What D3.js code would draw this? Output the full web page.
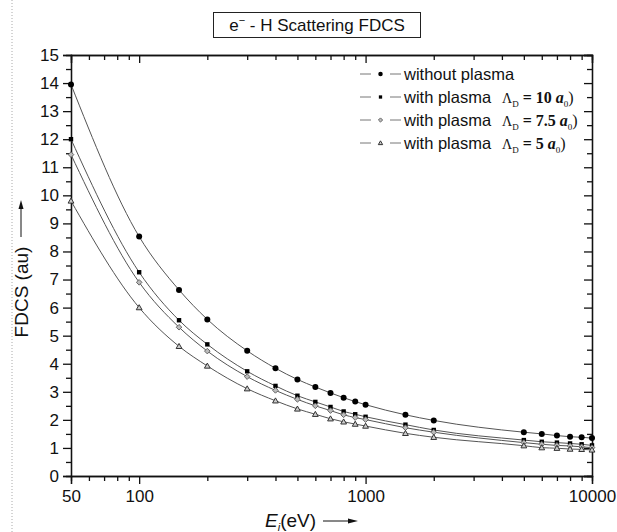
<!DOCTYPE html>
<html>
<head>
<meta charset="utf-8">
<script src="https://cdn.jsdelivr.net/npm/d3@7"></script>
<style>
  body { margin: 0; background: #fff; }
  svg { display: block; font-family: "Liberation Sans", Arial, sans-serif; }
</style>
</head>
<body>
<svg></svg>
<script>
var w = 617, h = 532

// energies (eV)
var energies = [50, 100, 150, 200, 300, 400, 500, 600, 700, 800, 900, 1000, 1500, 2000, 5000, 6000, 7000, 8000, 9000, 10000]

// FDCS values
var noPlasma = [13.95, 8.53, 6.63, 5.58, 4.46, 3.84, 3.44, 3.17, 2.96, 2.79, 2.65, 2.54, 2.18, 1.98, 1.56, 1.50, 1.44, 1.40, 1.38, 1.35]
var lambda10 = [12.0, 7.26, 5.55, 4.69, 3.73, 3.21, 2.86, 2.64, 2.46, 2.30, 2.20, 2.11, 1.83, 1.64, 1.28, 1.22, 1.19, 1.16, 1.13, 1.09]
var lambda75 = [11.45, 6.90, 5.30, 4.45, 3.54, 3.05, 2.73, 2.50, 2.33, 2.18, 2.08, 2.01, 1.72, 1.56, 1.19, 1.13, 1.09, 1.07, 1.04, 1.01]
var lambda5  = [9.8, 6.0, 4.62, 3.92, 3.11, 2.68, 2.39, 2.20, 2.04, 1.93, 1.85, 1.78, 1.52, 1.38, 1.08, 1.01, 0.99, 0.96, 0.95, 0.93]

var seriesNames = ["without plasma", "with plasma", "with plasma", "with plasma"]
var seriesLambda = [null, "10", "7.5", "5"]
var seriesSymbols = ["circle", "square", "diamond", "triangle"]

var xTickLabels = [50, 100, 1000, 10000]
var yTickLabels = d3.range(0, 16)

var svg = d3.select("svg")
    .attr("width", w)
    .attr("height", h)

var pLeft = 71, pRight = 592, pTop = 55, pBottom = 476

var x = d3.scaleLog().domain([50, 10000]).range([pLeft, pRight])
var y = d3.scaleLinear().domain([0, 15]).range([pBottom, pTop])

// dotted page edge on the left
svg.append("line")
    .attr("x1", 12).attr("x2", 12)
    .attr("y1", 0).attr("y2", h)
    .attr("stroke", "#aaa")
    .attr("stroke-dasharray", "1,2")

// title box
svg.append("rect")
    .attr("x", 213.5).attr("y", 12.5)
    .attr("width", 207).attr("height", 25)
    .attr("fill", "#fff")
    .attr("stroke", "#222")
var title = svg.append("text")
    .attr("x", 317).attr("y", 31)
    .attr("text-anchor", "middle")
    .attr("font-size", 17)
    .attr("fill", "#111")
title.append("tspan").text("e")
title.append("tspan").attr("dy", -7).attr("font-size", 11).text("\u2212")
title.append("tspan").attr("dy", 7).text(" - H Scattering FDCS")

// axes
var xMinor = [60, 70, 80, 90, 200, 300, 400, 500, 600, 700, 800, 900,
              2000, 3000, 4000, 5000, 6000, 7000, 8000, 9000]
var yMinor = d3.range(0.5, 15, 1)

function fmt(d) { return String(d) }

// bottom
svg.append("g")
    .attr("transform", "translate(0," + pBottom + ")")
    .call(d3.axisBottom(x).tickValues(xTickLabels).tickSize(8).tickPadding(6).tickFormat(fmt))
svg.append("g")
    .attr("transform", "translate(0," + pBottom + ")")
    .call(d3.axisBottom(x).tickValues(xMinor).tickSize(5).tickFormat(""))
// top (mirror, inward)
svg.append("g")
    .attr("transform", "translate(0," + pTop + ")")
    .call(d3.axisBottom(x).tickValues(xTickLabels).tickSize(8).tickFormat(""))
svg.append("g")
    .attr("transform", "translate(0," + pTop + ")")
    .call(d3.axisBottom(x).tickValues(xMinor).tickSize(5).tickFormat(""))
// left
svg.append("g")
    .attr("transform", "translate(" + pLeft + ",0)")
    .call(d3.axisLeft(y).tickValues(yTickLabels).tickSize(8).tickPadding(4).tickFormat(fmt))
svg.append("g")
    .attr("transform", "translate(" + pLeft + ",0)")
    .call(d3.axisLeft(y).tickValues(yMinor).tickSize(5).tickFormat(""))
// right (mirror, inward)
svg.append("g")
    .attr("transform", "translate(" + pRight + ",0)")
    .call(d3.axisLeft(y).tickValues(yTickLabels).tickSize(8).tickFormat(""))
svg.append("g")
    .attr("transform", "translate(" + pRight + ",0)")
    .call(d3.axisLeft(y).tickValues(yMinor).tickSize(5).tickFormat(""))

svg.selectAll(".domain").attr("stroke", "#111").attr("stroke-width", 1.3)
svg.selectAll(".tick line").attr("stroke", "#111").attr("stroke-width", 1.3)
svg.selectAll(".tick text")
    .attr("font-size", 17)
    .attr("font-family", "Liberation Sans, Arial, sans-serif")
    .attr("fill", "#111")

// axis titles
var yl = svg.append("g").attr("transform", "translate(28,292) rotate(-90)")
yl.append("text")
    .attr("text-anchor", "middle")
    .attr("font-size", 19)
    .attr("fill", "#111")
    .text("FDCS (au)")
yl.append("line")
    .attr("x1", 55).attr("x2", 84)
    .attr("y1", -7).attr("y2", -7)
    .attr("stroke", "#111")
yl.append("path")
    .attr("d", "M92,-7 L83,-9.5 L83,-4.5 Z")
    .attr("fill", "#111")

var xl = svg.append("text")
    .attr("x", 265).attr("y", 527)
    .attr("font-size", 19)
    .attr("fill", "#111")
xl.append("tspan").attr("font-style", "italic").text("E")
xl.append("tspan").attr("font-style", "italic").attr("font-size", 11).attr("dy", 4).text("i")
xl.append("tspan").attr("dy", -4).text("(eV)")
svg.append("line")
    .attr("x1", 323).attr("x2", 349)
    .attr("y1", 521).attr("y2", 521)
    .attr("stroke", "#111")
svg.append("path")
    .attr("d", "M358,521 L348,518.5 L348,523.5 Z")
    .attr("fill", "#111")

// curves and markers
var allSeries = [noPlasma, lambda10, lambda75, lambda5]

var line = d3.line()
    .x(function(d, i) { return x(energies[i]) })
    .y(function(d) { return y(d) })
    .curve(d3.curveMonotoneX)

function drawSymbol(g, kind, cx, cy, s) {
    if (kind == "circle") {
        g.append("circle")
            .attr("cx", cx).attr("cy", cy).attr("r", 3 * s)
            .attr("fill", "#000")
    } else if (kind == "square") {
        g.append("rect")
            .attr("x", cx - 2.2 * s).attr("y", cy - 2.2 * s)
            .attr("width", 4.4 * s).attr("height", 4.4 * s)
            .attr("fill", "#000")
    } else if (kind == "diamond") {
        var r = 2.8 * s
        g.append("path")
            .attr("d", "M" + cx + "," + (cy - r) + "L" + (cx + r) + "," + cy +
                "L" + cx + "," + (cy + r) + "L" + (cx - r) + "," + cy + "Z")
            .attr("fill", "#bbb")
            .attr("stroke", "#666")
            .attr("stroke-width", 1)
    } else {
        var r = 2.9 * s
        g.append("path")
            .attr("d", "M" + cx + "," + (cy - r) + "L" + (cx + r) + "," + (cy + r * 0.75) +
                "L" + (cx - r) + "," + (cy + r * 0.75) + "Z")
            .attr("fill", "#ccc")
            .attr("stroke", "#333")
            .attr("stroke-width", 1)
    }
}

allSeries.forEach(function(vals, k) {
    svg.append("path")
        .datum(vals)
        .attr("d", line)
        .attr("fill", "none")
        .attr("stroke", "#555")
        .attr("stroke-width", 1)
})
allSeries.forEach(function(vals, k) {
    var g = svg.append("g")
    vals.forEach(function(v, i) {
        drawSymbol(g, seriesSymbols[k], x(energies[i]), y(v), 1)
    })
})

// legend
var legY = [74, 97, 120, 143]
seriesNames.forEach(function(name, k) {
    var g = svg.append("g").attr("transform", "translate(0," + legY[k] + ")")
    g.append("line").attr("x1", 360).attr("x2", 371).attr("y1", 0).attr("y2", 0)
        .attr("stroke", "#777")
    g.append("line").attr("x1", 390).attr("x2", 401).attr("y1", 0).attr("y2", 0)
        .attr("stroke", "#777")
    drawSymbol(g, seriesSymbols[k], 380.5, 0, 0.75)
    g.append("text")
        .attr("x", 404).attr("y", 6)
        .attr("font-size", 16.5)
        .attr("fill", "#111")
        .text(name)
    if (seriesLambda[k]) {
        var t = g.append("text")
            .attr("x", 502).attr("y", 6)
            .attr("font-family", "Liberation Serif, Times New Roman, serif")
            .attr("font-size", 16)
            .attr("fill", "#111")
        t.append("tspan").attr("font-size", 14).text("\u039B")
        t.append("tspan").attr("font-size", 9).attr("dy", 4).text("D")
        t.append("tspan").attr("dy", -4).attr("font-weight", "bold").text(" = " + seriesLambda[k] + " ")
        t.append("tspan").attr("font-weight", "bold").attr("font-style", "italic").text("a")
        t.append("tspan").attr("font-size", 9).attr("dy", 4).text("0")
        t.append("tspan").attr("dy", -4).text(")")
    }
})
</script>
</body>
</html>
